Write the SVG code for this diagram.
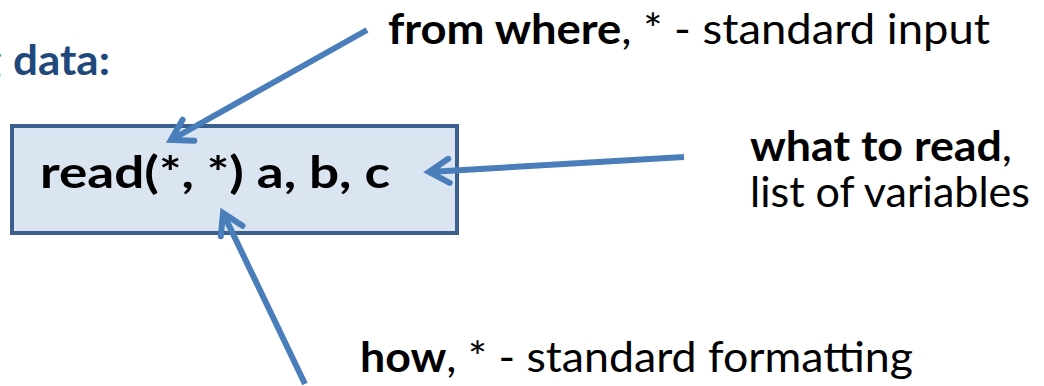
<svg xmlns="http://www.w3.org/2000/svg" width="1044" height="386" viewBox="0 0 1044 386">
  <style>
    .t { font-family: Lato, "Liberation Sans", sans-serif; fill: #000; }
    .b { font-weight: bold; }
    .r { font-weight: normal; }
    .title { font-family: Lato, "Liberation Sans", sans-serif; font-weight: bold; fill: #1f497d; }
    .box { fill: #dbe4f1; stroke: #3b5f8e; stroke-width: 4; }
    .conn { fill: none; stroke: #4a7ebb; stroke-width: 6; marker-end: url(#open); }
  </style>
  <defs>
    <marker id="open" markerUnits="userSpaceOnUse" markerWidth="40" markerHeight="40" refX="0" refY="0" viewBox="-30 -20 40 40" orient="auto" overflow="visible">
      <path d="M-20,-12 L0,0 L-20,12" fill="none" stroke="#4a7ebb" stroke-width="6" stroke-linecap="round" stroke-linejoin="miter"/>
    </marker>
  </defs>

  <!-- heading, its first word running off the left edge -->
  <g id="heading">
    <text class="title" font-size="42" y="75"><tspan x="-21">g</tspan><tspan x="13" textLength="97" lengthAdjust="spacingAndGlyphs">data:</tspan></text>
  </g>

  <!-- the statement -->
  <g id="statement">
    <rect class="box" x="12" y="126" width="445" height="107"/>
    <text class="t b" font-size="44" x="40" y="188" textLength="350" lengthAdjust="spacingAndGlyphs">read(*, *) a, b, c</text>
  </g>

  <g id="label-where">
    <text class="t" font-size="42" x="388" y="44" textLength="602" lengthAdjust="spacingAndGlyphs"><tspan class="b">from where</tspan><tspan class="r">, * - standard input</tspan></text>
  </g>

  <g id="label-what">
    <text class="t" font-size="42" x="750" y="161" textLength="262" lengthAdjust="spacingAndGlyphs"><tspan class="b">what to read</tspan><tspan class="r">,</tspan></text>
    <text class="t r" font-size="42" x="750" y="207" textLength="280" lengthAdjust="spacingAndGlyphs">list of variables</text>
  </g>

  <g id="label-how">
    <text class="t" font-size="42" x="360" y="372" textLength="553" lengthAdjust="spacingAndGlyphs"><tspan class="b">how</tspan><tspan class="r">, * - standard formatting</tspan></text>
  </g>

  <!-- connectors -->
  <g id="connectors">
    <line class="conn" x1="367" y1="30" x2="171" y2="140"/>
    <line class="conn" x1="684" y1="157" x2="429" y2="172"/>
    <line class="conn" x1="305" y1="384" x2="223" y2="213"/>
  </g>
</svg>
